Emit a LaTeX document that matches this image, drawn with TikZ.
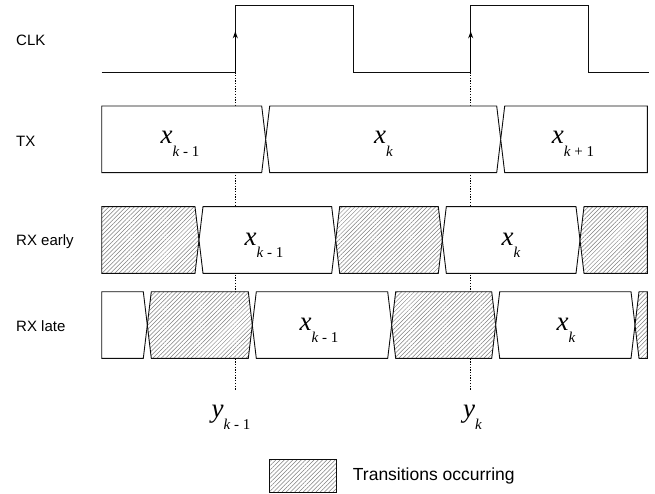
\documentclass[tikz,border=0pt]{standalone}
\usepackage{fontspec}
\setmainfont{Liberation Serif}
\setsansfont{Liberation Sans}
\usetikzlibrary{arrows.meta,patterns.meta}
\definecolor{hatchgray}{gray}{0.5}
\definecolor{wireink}{gray}{0.05}

% one data cell: left x, left inset, right x, right inset, top y, style
\newcommand{\wavecell}[6]{%
  \draw[#6] (#1+#2,#5) -- (#3-#4,#5) -- (#3,#5+33.3) -- (#3-#4,#5+66.7)
    -- (#1+#2,#5+66.7) -- (#1,#5+33.3) -- cycle;}
% symbol with a lowered index
\newcommand{\symidx}[3]{\textit{#1}\raisebox{-12.5pt}{\fontsize{15}{15}\selectfont\textit{#2}#3}}

\begin{document}
\begin{tikzpicture}[
  x=1pt,y=-1pt,
  >={Stealth[length=7pt,width=5pt]},
  wire/.style={draw=wireink,line width=0.9pt},
  valid/.style={wire,fill=white},
  hatched/.style={wire,preaction={fill=white},
    pattern={Lines[angle=45,distance=3pt,line width=0.5pt]},pattern color=hatchgray},
  sample/.style={line width=1.3pt,dash pattern=on 1.3pt off 1.4pt},
  rowlabel/.style={font=\sffamily\fontsize{15}{15}\selectfont,anchor=west,inner sep=0pt},
  datum/.style={font=\fontsize{27}{27}\selectfont,anchor=base,inner sep=0pt}
]
  \useasboundingbox (0,0) rectangle (655,494);

  % row names
  \node[rowlabel] (clk) at (16,40) {CLK};
  \node[rowlabel] (tx) at (16,141) {TX};
  \node[rowlabel] (rxe) at (16,242) {RX early};
  \node[rowlabel] (rxl) at (16,326) {RX late};

  % clock edges and sample points
  \coordinate (edge1) at (235.3,72.3);
  \coordinate (edge2) at (470.7,72.3);
  \coordinate (tick1) at (235.3,390);
  \coordinate (tick2) at (470.7,390);

  \draw[sample] (edge1) -- (tick1);
  \draw[sample] (edge2) -- (tick2);

  \draw[wire] (101.7,72.3) -- (edge1) -- (235.3,5.7) -- (353.3,5.7)
    -- (353.3,72.3) -- (edge2) -- (470.7,5.7) -- (588.7,5.7)
    -- (588.7,72.3) -- (649.3,72.3);
  \draw[->,line width=1.5pt] (edge1) -- ++(0,-41);
  \draw[->,line width=1.5pt] (edge2) -- ++(0,-41);

  % TX
  \wavecell{101.7}{0}{265.7}{4}{106}{valid}
  \wavecell{265.7}{4}{500.7}{4}{106}{valid}
  \wavecell{500.7}{4}{647.3}{0}{106}{valid}
  \node[datum] (tx1) at (180,144) {\symidx{x}{k}{ - 1}};
  \node[datum] (tx2) at (383.5,144) {\symidx{x}{k}{}};
  \node[datum] (tx3) at (573,144) {\symidx{x}{k}{ + 1}};

  % RX early
  \wavecell{101.7}{0}{199}{4}{206.7}{hatched}
  \wavecell{199}{4}{335.7}{4}{206.7}{valid}
  \wavecell{335.7}{4}{442.3}{4}{206.7}{hatched}
  \wavecell{442.3}{4}{580}{4}{206.7}{valid}
  \wavecell{580}{4}{647.3}{0}{206.7}{hatched}
  \node[datum] (rxe1) at (264,245) {\symidx{x}{k}{ - 1}};
  \node[datum] (rxe2) at (511,245) {\symidx{x}{k}{}};

  % RX late
  \wavecell{101.7}{0}{147.3}{4}{291.7}{valid}
  \wavecell{147.3}{4}{252.3}{4}{291.7}{hatched}
  \wavecell{252.3}{4}{391.7}{4}{291.7}{valid}
  \wavecell{391.7}{4}{495.7}{4}{291.7}{hatched}
  \wavecell{495.7}{4}{635}{4}{291.7}{valid}
  \wavecell{635}{4}{647.3}{0}{291.7}{hatched}
  \node[datum] (rxl1) at (319,330) {\symidx{x}{k}{ - 1}};
  \node[datum] (rxl2) at (566,330) {\symidx{x}{k}{}};

  % sampled values
  \node[datum] (y1) at (231,417) {\symidx{y}{k}{ - 1}};
  \node[datum] (y2) at (472.5,417) {\symidx{y}{k}{}};

  % legend
  \draw[hatched] (269.3,459.3) rectangle (336.7,492.7);
  \node[rowlabel,font=\sffamily\fontsize{17.5}{17.5}\selectfont] (key) at (352.7,476)
    {Transitions occurring};
\end{tikzpicture}
\end{document}
